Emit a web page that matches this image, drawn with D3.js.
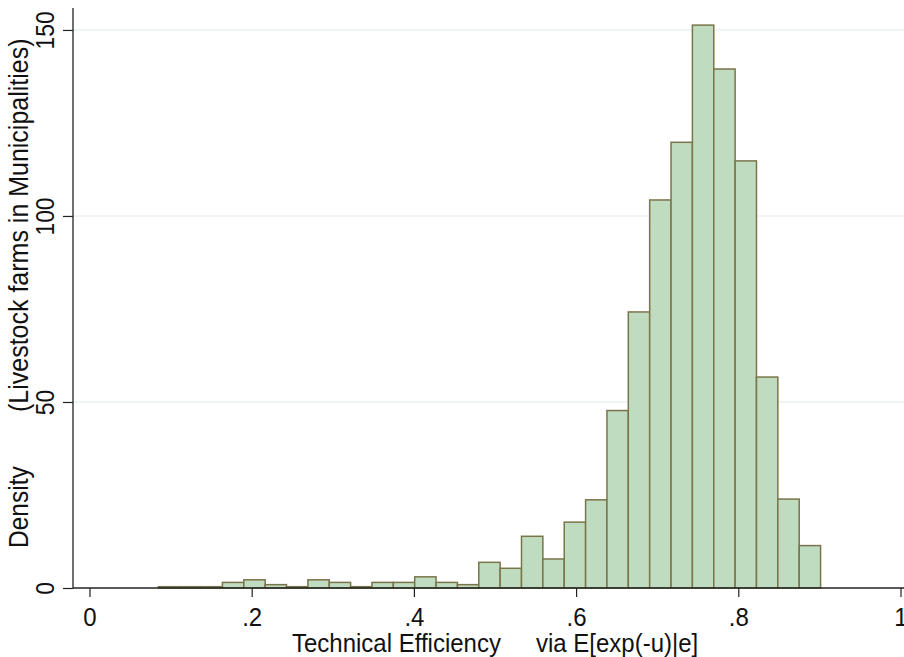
<!DOCTYPE html>
<html>
<head>
<meta charset="utf-8">
<script src="https://cdn.jsdelivr.net/npm/d3@7"></script>
<style>
  body { margin: 0; background: #fff; }
  svg { font-family: "Liberation Sans", Arial, sans-serif; }
</style>
</head>
<body>
<svg id="chart" width="904" height="657"></svg>
<script>
// Histogram data (density per bin)
const binStart = 0.0849;
const binWidth = 0.02634;
const density = [
  0.35, 0.35, 0.35, 1.5, 2.2, 0.9, 0.35, 2.2, 1.5, 0.35,
  1.5, 1.5, 3.0, 1.5, 0.9, 6.9, 5.3, 13.9, 7.8, 17.7,
  23.7, 47.7, 74.2, 104.3, 119.8, 151.3, 139.5, 114.8, 56.7, 23.9,
  11.4
];
const xTicks = [0, 0.2, 0.4, 0.6, 0.8, 1];
const xTickLabels = ["0", ".2", ".4", ".6", ".8", "1"];
const yTicks = [0, 50, 100, 150];

const bins = density.map((d, i) => ({
  x0: binStart + i * binWidth,
  x1: binStart + (i + 1) * binWidth,
  y: d
}));

const svg = d3.select("#chart");
const axisX = 73, baseY = 588, topY = 8, rightX = 904;
const ink = "#111";

const x = d3.scaleLinear().domain([0, 1]).range([89.5, 900.5]);
const y = d3.scaleLinear().domain([0, 155.9]).range([baseY, topY]);

// gridlines
svg.append("g")
  .selectAll("line")
  .data(yTicks.filter(d => d > 0))
  .join("line")
  .attr("x1", axisX).attr("x2", rightX)
  .attr("y1", d => y(d)).attr("y2", d => y(d))
  .attr("stroke", "#eaf2f3")
  .attr("stroke-width", 1.5);

// bars
svg.append("g")
  .selectAll("rect")
  .data(bins)
  .join("rect")
  .attr("x", d => x(d.x0))
  .attr("width", d => x(d.x1) - x(d.x0))
  .attr("y", d => y(d.y))
  .attr("height", d => baseY - y(d.y))
  .attr("fill", "#c0dcc0")
  .attr("stroke", "#7a744a")
  .attr("stroke-width", 1.5);

// x axis
const gx = svg.append("g")
  .attr("transform", `translate(0,${baseY})`)
  .call(d3.axisBottom(x).tickValues(xTicks).tickFormat((d, i) => xTickLabels[i]).tickSize(9));
gx.select(".domain").remove();
gx.selectAll(".tick line").attr("stroke", "#222").attr("stroke-width", 1.2);
gx.selectAll(".tick text")
  .attr("font-size", 24).attr("fill", ink)
  .attr("font-family", "Liberation Sans, Arial, sans-serif")
  .attr("y", 0).attr("dy", 0)
  .attr("transform", "translate(0,38) scale(1,1.05)");
svg.append("line")
  .attr("x1", axisX).attr("x2", rightX)
  .attr("y1", baseY).attr("y2", baseY)
  .attr("stroke", "#222").attr("stroke-width", 1.3);

// y axis
const gy = svg.append("g")
  .attr("transform", `translate(${axisX},0)`)
  .call(d3.axisLeft(y).tickValues(yTicks).tickSize(10));
gy.select(".domain").remove();
gy.selectAll(".tick line").attr("stroke", "#222").attr("stroke-width", 1.2);
gy.selectAll(".tick text")
  .attr("font-size", 24).attr("fill", ink)
  .attr("font-family", "Liberation Sans, Arial, sans-serif")
  .attr("text-anchor", "middle")
  .attr("x", 0).attr("dy", 0)
  .attr("transform", "translate(-19,0) rotate(-90) scale(0.95,1.05)");
svg.append("line")
  .attr("x1", axisX).attr("x2", axisX)
  .attr("y1", topY).attr("y2", baseY)
  .attr("stroke", "#222").attr("stroke-width", 1.3);

// axis titles
svg.append("text")
  .attr("transform", "translate(292,652) scale(1,1.1)")
  .attr("font-size", 24).attr("fill", ink)
  .text("Technical Efficiency");
svg.append("text")
  .attr("transform", "translate(536,652) scale(1,1.1)")
  .attr("font-size", 24).attr("fill", ink)
  .text("via E[exp(-u)|e]");

svg.append("text")
  .attr("transform", "translate(28,548) rotate(-90) scale(1,1.1)")
  .attr("font-size", 24.5).attr("fill", ink)
  .text("Density");
svg.append("text")
  .attr("transform", "translate(28,412) rotate(-90) scale(1,1.1)")
  .attr("font-size", 25).attr("fill", ink)
  .text("(Livestock farms in Municipalities)");
</script>
</body>
</html>
